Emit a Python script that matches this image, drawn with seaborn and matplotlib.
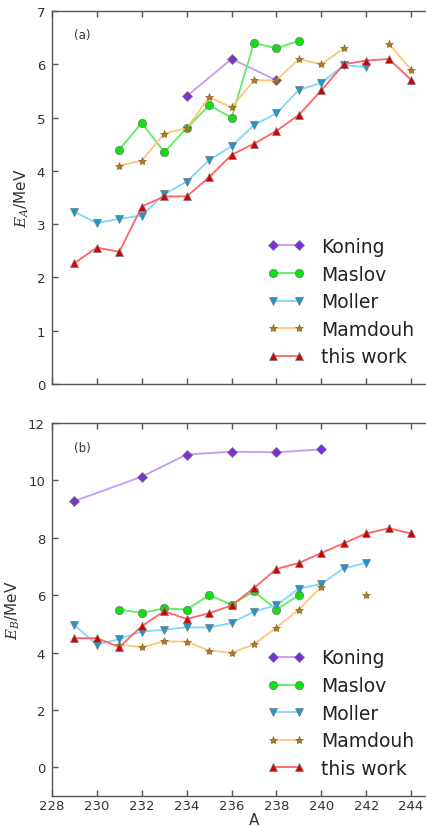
import numpy as np
import pandas as pd
import matplotlib
matplotlib.use("Agg")
import matplotlib.pyplot as plt
from matplotlib.lines import Line2D
import seaborn as sns

# ---------------- data ----------------
A_all = list(range(229, 245))

# panel (a) E_A
koning_A_x = [234, 236, 238]
koning_A_y = [5.4, 6.1, 5.7]
maslov_A_x = [231, 232, 233, 234, 235, 236, 237, 238, 239]
maslov_A_y = [4.4, 4.9, 4.35, 4.8, 5.23, 5.0, 6.4, 6.3, 6.44]
moller_A_x = [229, 230, 231, 232, 233, 234, 235, 236, 237, 238, 239, 240, 241, 242]
moller_A_y = [3.23, 3.02, 3.1, 3.16, 3.56, 3.8, 4.2, 4.46, 4.86, 5.08, 5.52, 5.65, 5.98, 5.95]
mamdouh_A_x = [231, 232, 233, 234, 235, 236, 237, 238, 239, 240, 241, 242, 243, 244]
mamdouh_A_y = [4.1, 4.19, 4.7, 4.8, 5.38, 5.19, 5.7, 5.7, 6.1, 6.0, 6.3, np.nan, 6.39, 5.9]
work_A_x = A_all
work_A_y = [2.27, 2.56, 2.48, 3.33, 3.52, 3.52, 3.88, 4.3, 4.51, 4.75, 5.05, 5.51, 6.0, 6.07, 6.1, 5.71]

# panel (b) E_B
koning_B_x = [229, 232, 234, 236, 238, 240]
koning_B_y = [9.28, 10.13, 10.9, 11.0, 10.98, 11.08]
maslov_B_x = [231, 232, 233, 234, 235, 236, 237, 238, 239]
maslov_B_y = [5.5, 5.38, 5.54, 5.5, 6.0, 5.67, 6.13, 5.5, 6.0]
moller_B_x = [229, 230, 231, 232, 233, 234, 235, 236, 237, 238, 239, 240, 241, 242]
moller_B_y = [4.96, 4.27, 4.47, 4.73, 4.8, 4.88, 4.87, 5.03, 5.43, 5.65, 6.23, 6.39, 6.94, 7.12]
mamdouh_B_x = [231, 232, 233, 234, 235, 236, 237, 238, 239, 240, 241, 242]
mamdouh_B_y = [4.27, 4.19, 4.39, 4.38, 4.07, 3.99, 4.29, 4.87, 5.5, 6.29, np.nan, 6.0]
work_B_x = A_all
work_B_y = [4.5, 4.5, 4.19, 4.92, 5.44, 5.17, 5.37, 5.64, 6.25, 6.91, 7.12, 7.47, 7.81, 8.15, 8.33, 8.15]

labels = ["Koning", "Maslov", "Moller", "Mamdouh", "this work"]
x_ticks = list(range(228, 245, 2))
yA_ticks = [0, 1, 2, 3, 4, 5, 6, 7]
yB_ticks = [0, 2, 4, 6, 8, 10, 12]

# ---------------- style ----------------
styles = {
    "Koning":    dict(line="#c49cf0", face="#7a2fd8", edge="#777777", marker="D", ms=5.5),
    "Maslov":    dict(line="#5ded5d", face="#10e010", edge="#777777", marker="o", ms=6),
    "Moller":    dict(line="#80d6fb", face="#1c98d2", edge="#777777", marker="v", ms=6),
    "Mamdouh":   dict(line="#ffc67a", face="#b07c22", edge="#8a6420", marker="*", ms=6),
    "this work": dict(line="#ff6363", face="#d40000", edge="#777777", marker="^", ms=6),
}

sns.set_theme(style="ticks")
plt.rcParams.update({
    "font.family": ["DejaVu Sans"],
    "axes.edgecolor": "#555555",
    "axes.linewidth": 1.0,
    "xtick.color": "#555555",
    "ytick.color": "#555555",
    "xtick.labelcolor": "#333333",
    "ytick.labelcolor": "#333333",
    "xtick.direction": "in",
    "ytick.direction": "in",
    "xtick.top": True,
    "ytick.right": True,
    "mathtext.fontset": "dejavuserif",
})

fig = plt.figure(figsize=(4.27, 8.28), dpi=100)
W, H = 427.0, 828.0
axA = fig.add_axes([52 / W, 1 - 385 / H, (456 - 52) / W, (385 - 12) / H])
axB = fig.add_axes([52 / W, 1 - 797 / H, (456 - 52) / W, (797 - 424) / H])


def draw(ax, name, xs, ys):
    st = styles[name]
    df = pd.DataFrame({"A": xs, "E": ys})
    # segment ids so NaN gaps break the line
    df["seg"] = df["E"].isna().cumsum()
    df = df.dropna()
    sns.lineplot(data=df, x="A", y="E", units="seg", estimator=None, ax=ax,
                 color=st["line"], lw=1.3, marker=st["marker"],
                 markerfacecolor=st["face"], markeredgecolor=st["edge"],
                 markeredgewidth=0.5, markersize=st["ms"], legend=False,
                 sort=False)


series_A = [("Koning", koning_A_x, koning_A_y), ("Maslov", maslov_A_x, maslov_A_y),
            ("Moller", moller_A_x, moller_A_y), ("Mamdouh", mamdouh_A_x, mamdouh_A_y),
            ("this work", work_A_x, work_A_y)]
series_B = [("Koning", koning_B_x, koning_B_y), ("Maslov", maslov_B_x, maslov_B_y),
            ("Moller", moller_B_x, moller_B_y), ("Mamdouh", mamdouh_B_x, mamdouh_B_y),
            ("this work", work_B_x, work_B_y)]

for n, xs, ys in series_A:
    draw(axA, n, xs, ys)
for n, xs, ys in series_B:
    draw(axB, n, xs, ys)

for ax in (axA, axB):
    ax.set_xlim(228, 246)
    ax.set_xticks(x_ticks)
    ax.tick_params(length=4, width=1, labelsize=9.5)
    ax.tick_params(axis="x", pad=2)
    ax.tick_params(axis="y", pad=5)
    ax.set_xlabel("")

axA.set_ylim(0, 7)
axA.set_yticks(yA_ticks)
axA.set_xticklabels([])
axB.set_ylim(-1, 12)
axB.set_yticks(yB_ticks)
axB.set_xlabel("A", fontsize=11, color="#333333", labelpad=0)

axA.set_ylabel(r"$E_A$/MeV", fontsize=11, color="#333333", labelpad=4)
axB.set_ylabel(r"$E_B$/MeV", fontsize=11, color="#333333", labelpad=4)

fig.text(74 / W, 1 - 35 / H, "(a)", fontsize=8.5, color="#333333", va="center")
fig.text(74 / W, 1 - 449 / H, "(b)", fontsize=8.5, color="#333333", va="center")

handles = []
for n in labels:
    st = styles[n]
    handles.append(Line2D([0], [0], color=st["line"], lw=1.3, marker=st["marker"],
                          markerfacecolor=st["face"], markeredgecolor=st["edge"],
                          markeredgewidth=0.5, markersize=st["ms"]))

for ax, top in ((axA, 238), (axB, 649.5)):
    ax.legend(handles, labels, loc="upper left", bbox_to_anchor=(267.5 / W, 1 - top / H),
              bbox_transform=fig.transFigure, frameon=False, fontsize=13.5,
              handlelength=2.0, handletextpad=0.87, labelspacing=0.46, numpoints=2,
              borderpad=0, borderaxespad=0, labelcolor="#222222")

fig.savefig("out.png", dpi=100)
